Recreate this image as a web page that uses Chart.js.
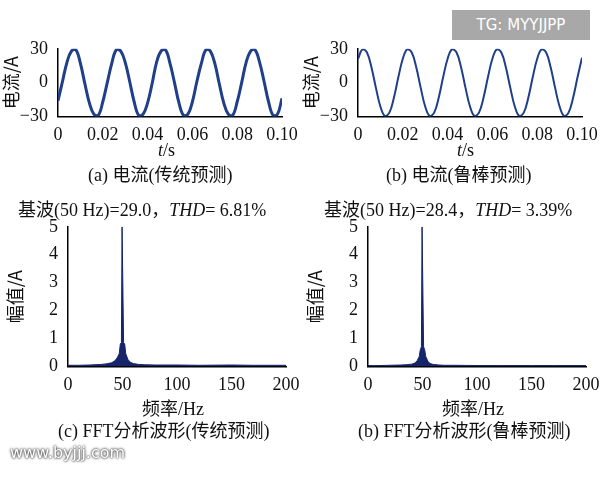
<!DOCTYPE html>
<html><head><meta charset="utf-8">
<script src="https://cdn.jsdelivr.net/npm/chart.js@4"></script>
<style>
body{margin:0;width:600px;height:480px;background:#fff;position:relative;overflow:hidden;font-family:"Liberation Serif","Noto Sans CJK SC",serif;}
.c{position:absolute}
.t{position:absolute;font-size:18px;color:#111;white-space:nowrap;text-align:center}
</style></head><body>
<div class="c" style="left:0;top:36px;width:300px;height:110px"><canvas id="c1"></canvas></div>
<div class="c" style="left:300px;top:36px;width:300px;height:110px"><canvas id="c2"></canvas></div>
<div class="c" style="left:0;top:214px;width:300px;height:182px"><canvas id="c3"></canvas></div>
<div class="c" style="left:300px;top:214px;width:300px;height:182px"><canvas id="c4"></canvas></div>
<div class="t" style="left:158px;top:141px;line-height:18px"><i>t</i>/s</div>
<div class="t" style="left:457px;top:141px;line-height:18px"><i>t</i>/s</div>
<div class="t" style="left:88px;top:160px">(a) 电流(传统预测)</div>
<div class="t" style="left:386px;top:160px">(b) 电流(鲁棒预测)</div>
<div class="t" style="left:18px;top:195px">基波(50 Hz)=29.0，<i>THD</i>= 6.81%</div>
<div class="t" style="left:324px;top:195px">基波(50 Hz)=28.4，<i>THD</i>= 3.39%</div>
<div class="t" style="left:142px;top:394px">频率/Hz</div>
<div class="t" style="left:442px;top:394px">频率/Hz</div>
<div class="t" style="left:58px;top:416px">(c) FFT分析波形(传统预测)</div>
<div class="t" style="left:358px;top:416px">(b) FFT分析波形(鲁棒预测)</div>
<div style="position:absolute;left:452px;top:10px;width:138px;height:30px;background:#a8a8a8;color:#fff;font:15px 'DejaVu Sans';line-height:30px;text-align:center">TG: MYYJJPP</div>
<div style="position:absolute;left:10px;top:443px;color:#fff;font:16px 'DejaVu Sans';text-shadow:0 0 3px #333,0 0 2px #333">www.byjjj.com</div>
<script>
// time samples, 2 ms step
const tVals = [0,0.002,0.004,0.006,0.008,0.01,0.012,0.014,0.016,0.018,0.02,0.022,0.024,0.026,0.028,0.03,0.032,0.034,0.036,0.038,0.04,0.042,0.044,0.046,0.048,0.05,0.052,0.054,0.056,0.058,0.06,0.062,0.064,0.066,0.068,0.07,0.072,0.074,0.076,0.078,0.08,0.082,0.084,0.086,0.088,0.09,0.092,0.094,0.096,0.098,0.1];
const iTraditional = [-16,1,18,28,29,17,-1,-18,-28,-29,-17,0,17,29,28,18,1,-17,-29,-28,-18,-1,18,28,29,17,0,-18,-29,-28,-17,1,17,29,28,17,-1,-18,-28,-29,-17,0,18,28,29,18,1,-17,-29,-28,-14];
const iRobust = [21,29.6,26.7,13.6,-4.7,-21.2,-29.7,-26.7,-13.6,4.7,21.2,29.6,26.7,13.6,-4.7,-21.2,-29.7,-26.7,-13.6,4.7,21.2,29.6,26.7,13.6,-4.7,-21.2,-29.7,-26.7,-13.6,4.7,21.2,29.6,26.7,13.6,-4.7,-21.2,-29.7,-26.7,-13.6,4.7,21.2,29.6,26.7,13.6,-4.7,-21.2,-29.7,-26.7,-13.6,4.7,22];
// spectrum
const freq = [0,5,10,20,30,35,40,43,45,47,48,49,49.6,50,50.4,51,52,53,55,57,60,65,70,80,100,120,150,170,200];
const ampTraditional = [0.04,0.04,0.04,0.05,0.07,0.09,0.13,0.2,0.3,0.45,0.8,0.85,5,5,5,0.85,0.8,0.45,0.25,0.15,0.1,0.07,0.06,0.05,0.05,0.04,0.05,0.04,0.04];
const ampRobust = [0.03,0.03,0.03,0.04,0.05,0.06,0.08,0.12,0.2,0.35,0.6,0.7,5,5,5,0.7,0.6,0.35,0.18,0.1,0.07,0.05,0.04,0.04,0.03,0.03,0.03,0.03,0.03];

const navy = '#1f3f8a';
const tickFont = {family:'Liberation Serif', size:18};
const titleFont = {family:'Noto Sans CJK SC', size:18};
Chart.defaults.color = '#111';

function fixW(w){ return function(s){ s.width = w; }; }

function waveChart(id, ys, lw){
  new Chart(document.getElementById(id), {
    type:'line',
    data:{datasets:[{data:tVals.map((t,i)=>({x:t,y:ys[i]})), borderColor:navy, borderWidth:lw, pointRadius:0, tension:0.4, fill:false}]},
    options:{responsive:true, maintainAspectRatio:false, animation:false,
      layout:{padding:{top:4,right:18}},
      plugins:{legend:{display:false}, tooltip:{enabled:false}},
      scales:{
        x:{type:'linear', min:0, max:0.1, grid:{display:false}, border:{color:'#000',width:1.5},
           ticks:{font:tickFont, stepSize:0.02, padding:0, maxRotation:0, callback:v=>v===0?'0':v.toFixed(2)}},
        y:{min:-30, max:30, grid:{display:false}, border:{color:'#000',width:1.5}, afterFit:fixW(58),
           ticks:{font:tickFont, stepSize:30, padding:2, callback:v=>v<0?'−'+(-v):v},
           title:{display:true, text:'电流/A', font:titleFont, padding:0}}
      }}
  });
}

function fftChart(id, ys){
  new Chart(document.getElementById(id), {
    type:'line',
    data:{datasets:[{data:freq.map((f,i)=>({x:f,y:ys[i]})), borderColor:'#16256b', backgroundColor:'#16256b', borderWidth:1, pointRadius:0, tension:0, fill:'origin'}]},
    options:{responsive:true, maintainAspectRatio:false, animation:false,
      layout:{padding:{top:8,right:14}},
      plugins:{legend:{display:false}, tooltip:{enabled:false}},
      scales:{
        x:{type:'linear', min:0, max:200, grid:{display:false}, border:{color:'#000',width:1.5},
           ticks:{font:tickFont, stepSize:50, padding:0, maxRotation:0}},
        y:{min:0, max:5, grid:{display:false}, border:{color:'#000',width:1.5}, afterFit:fixW(68),
           ticks:{font:tickFont, stepSize:1, padding:2},
           title:{display:true, text:'幅值/A', font:titleFont, padding:4}}
      }}
  });
}

waveChart('c1', iTraditional, 3);
waveChart('c2', iRobust, 2);
fftChart('c3', ampTraditional);
fftChart('c4', ampRobust);
</script>
</body></html>
